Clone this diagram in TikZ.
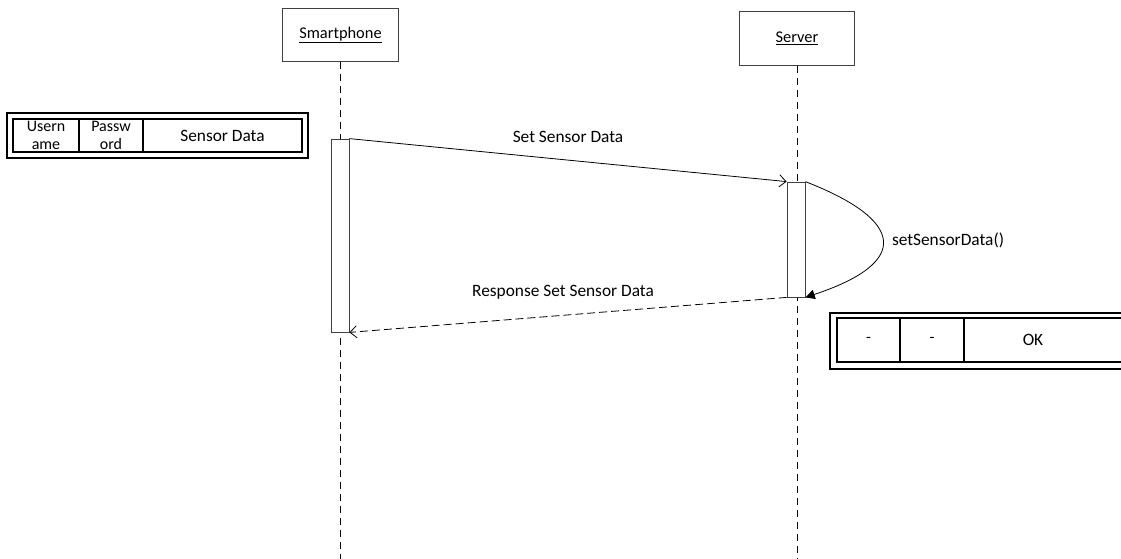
\documentclass[tikz,border=0pt]{standalone}
\usepackage{fontspec}
\setmainfont{Carlito}
\usetikzlibrary{arrows.meta}
\tikzset{
  actor/.style={draw=black!75, line width=0.6pt, fill=white, inner sep=0pt,
    minimum width=86.5pt, minimum height=40pt, font=\fontsize{12.3}{14}\selectfont},
  lifeline/.style={draw=black, line width=0.75pt, dash pattern=on 5.25pt off 3.75pt},
  activation/.style={draw=black!75, line width=0.6pt, fill=white, inner sep=0pt,
    minimum width=13.5pt},
  msg/.style={-{Straight Barb[length=5pt,width=9pt]}, line width=0.6pt, draw=black},
  reply/.style={msg, dash pattern=on 6pt off 3pt},
  selfmsg/.style={-{Triangle[length=7pt,width=7pt]}, line width=0.6pt, draw=black},
  record/.style={draw=black, line width=0.9pt},
  field/.style={inner sep=0pt, align=center, font=\fontsize{12}{13.5}\selectfont}
}
\begin{document}
\begin{tikzpicture}[font=\fontsize{13}{15}\selectfont, x=0.75pt, y=-0.75pt]
  \clip (0,0) rectangle (1121,558);

  % participants
  \node[actor] (phone) at (340.5,35) {\underline{Smartphone}};
  \node[actor] (server) at (797,38.5) {\underline{Server}};
  \coordinate (phoneEnd) at (phone.south |- 0,560);
  \coordinate (serverEnd) at (server.south |- 0,560);
  \draw[lifeline] (phone.south) -- (phoneEnd);
  \draw[lifeline] (server.south) -- (serverEnd);

  \node[activation, minimum height=144.75pt] (phoneAct) at (340,235.5) {};
  \node[activation, minimum height=86.25pt] (serverAct) at (796,239.5) {};

  % messages
  \draw[msg] (phoneAct.north east) -- (serverAct.north west);
  \node (setLbl) at (568,137) {Set Sensor Data};
  \draw[selfmsg] (serverAct.north east) .. controls (904,220) and (912,262) .. (serverAct.south east);
  \node (selfLbl) at (948,240) {setSensorData()};
  \draw[reply] (serverAct.south west) -- (phoneAct.south east);
  \node (replyLbl) at (563,292) {Response Set Sensor Data};

  % request format
  \draw[record] (7,113) rectangle (308,158);
  \draw[record] (13,119) rectangle (302,152);
  \draw[record] (79,119) -- (79,152) (143,119) -- (143,152);
  \node[field] (reqUser) at (46,135.5) {Usern\\ame};
  \node[field] (reqPass) at (111,135.5) {Passw\\ord};
  \node[field, font=\fontsize{13}{15}\selectfont] (reqData) at (222.5,135.5) {Sensor Data};

  % response format
  \draw[record] (830,313) rectangle (1140,369);
  \draw[record] (837,318) rectangle (1135,362);
  \draw[record] (900,318) -- (900,362) (964,318) -- (964,362);
  \node[field] (resUser) at (868.5,340) {-};
  \node[field] (resPass) at (932,340) {-};
  \node[field, font=\fontsize{13}{15}\selectfont] (resData) at (1033,340) {OK};
\end{tikzpicture}
\end{document}
